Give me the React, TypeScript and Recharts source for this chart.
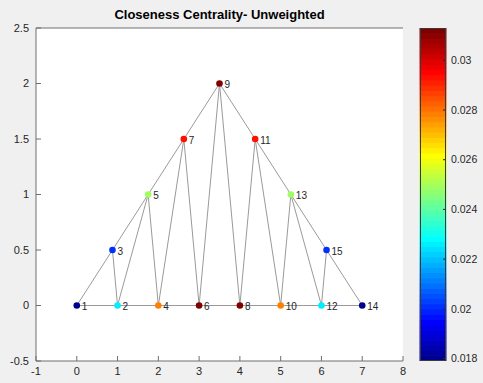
import React from 'react';
import {
  ComposedChart,
  BarChart,
  Bar,
  Scatter,
  XAxis,
  YAxis,
  ReferenceLine,
  CartesianGrid
} from 'recharts';

// node layout + closeness values
const nodeIds = [1, 2, 3, 4, 5, 6, 7, 8, 9, 10, 11, 12, 13, 14, 15];
const nodeX = [0, 1, 0.875, 2, 1.75, 3, 2.625, 4, 3.5, 5, 4.375, 6, 5.25, 7, 6.125];
const nodeY = [0, 0, 0.5, 0, 1, 0, 1.5, 0, 2, 0, 1.5, 0, 1, 0, 0.5];
const closeness = [
  0.0179, 0.0227, 0.02, 0.0278, 0.025, 0.0313, 0.0294, 0.0313,
  0.0313, 0.0278, 0.0294, 0.0227, 0.025, 0.0179, 0.02
];

const edgeFrom = [1, 1, 2, 2, 2, 3, 4, 4, 4, 5, 6, 6, 6, 7, 8, 8, 8, 9, 10, 10, 10, 11, 12, 12, 12, 13, 14];
const edgeTo = [2, 3, 3, 4, 5, 5, 5, 6, 7, 7, 7, 8, 9, 9, 9, 10, 11, 11, 11, 12, 13, 13, 13, 14, 15, 15, 15];

const xTicks = [-1, 0, 1, 2, 3, 4, 5, 6, 7, 8];
const yTicks = [-0.5, 0, 0.5, 1, 1.5, 2, 2.5];
const colorTicks = [0.018, 0.02, 0.022, 0.024, 0.026, 0.028, 0.03];

const TITLE = 'Closeness Centrality- Unweighted';
const FONT = '"Liberation Sans", Arial, Helvetica, sans-serif';

// MATLAB jet colormap
function jetMap(m: number): string[] {
  const n = Math.ceil(m / 4);
  const u: number[] = [];
  for (let i = 1; i <= n; i++) u.push(i / n);
  for (let i = 1; i < n; i++) u.push(1);
  for (let i = n; i >= 1; i--) u.push(i / n);
  const g0 = Math.ceil(n / 2) - (m % 4 === 1 ? 1 : 0);
  const rgb = Array.from({ length: m }, () => [0, 0, 0]);
  u.forEach((v, k) => {
    const gi = g0 + k + 1;
    const ri = gi + n;
    const bi = gi - n;
    if (ri >= 1 && ri <= m) rgb[ri - 1][0] = v;
    if (gi >= 1 && gi <= m) rgb[gi - 1][1] = v;
    if (bi >= 1 && bi <= m) rgb[bi - 1][2] = v;
  });
  return rgb.map(([r, g, b]) => `rgb(${Math.round(r * 255)},${Math.round(g * 255)},${Math.round(b * 255)})`);
}

const JET = jetMap(64);
const cmin = Math.min(...closeness);
const cmax = Math.max(...closeness);

function colorFor(c: number) {
  const idx = Math.min(JET.length - 1, Math.max(0, Math.floor(((c - cmin) / (cmax - cmin)) * JET.length)));
  return JET[idx];
}

const nodes = nodeIds.map((id, i) => ({ id, x: nodeX[i], y: nodeY[i], c: closeness[i] }));

// colour bar: one stacked column, a transparent base then 64 equal bands
const bandStep = (cmax - cmin) / JET.length;
const colorBarRow: Record<string, any> = { name: 'cb', base: cmin };
JET.forEach((_, i) => {
  colorBarRow[`s${i}`] = bandStep;
});
const colorBarData = [colorBarRow];

const tickStyle = { fill: '#262626', fontSize: 11, fontFamily: FONT };
const axisColor = '#6e6e6e';

const NodeShape = (props: any) => {
  const { cx, cy, payload } = props;
  return (
    <g>
      <circle cx={cx} cy={cy} r={3.3} fill={colorFor(payload.c)} />
      <text x={cx + 5} y={cy + 4.5} fontSize={10} fill="#262626" fontFamily={FONT}>
        {payload.id}
      </text>
    </g>
  );
};

function GraphPlot() {
  return (
    <ComposedChart width={483} height={383} margin={{ top: 0, right: 80, bottom: 0, left: 0 }}>
      <CartesianGrid xAxisId="b" yAxisId="l" horizontal={false} vertical={false} fill="#ffffff" />
      <XAxis
        xAxisId="b"
        type="number"
        dataKey="x"
        domain={[-1, 8]}
        ticks={xTicks}
        allowDataOverflow
        orientation="bottom"
        height={22}
        tickSize={-5}
        tickMargin={11}
        stroke={axisColor}
        tick={tickStyle}
        interval={0}
      />
      <XAxis
        xAxisId="t"
        type="number"
        domain={[-1, 8]}
        ticks={xTicks}
        allowDataOverflow
        orientation="top"
        height={28}
        tickSize={-5}
        tick={false}
        stroke={axisColor}
        interval={0}
      />
      <YAxis
        yAxisId="l"
        type="number"
        dataKey="y"
        domain={[-0.5, 2.5]}
        ticks={yTicks}
        allowDataOverflow
        width={36}
        tickSize={-5}
        tickMargin={12}
        stroke={axisColor}
        tick={tickStyle}
        interval={0}
      />
      <YAxis
        yAxisId="r"
        type="number"
        orientation="right"
        domain={[-0.5, 2.5]}
        ticks={yTicks}
        allowDataOverflow
        width={0}
        tickSize={-5}
        tick={false}
        stroke={axisColor}
        interval={0}
      />
      {edgeFrom.map((a, i) => {
        const b = edgeTo[i];
        return (
          <ReferenceLine
            key={`e${i}`}
            xAxisId="b"
            yAxisId="l"
            segment={[
              { x: nodeX[a - 1], y: nodeY[a - 1] },
              { x: nodeX[b - 1], y: nodeY[b - 1] }
            ]}
            stroke="#9a9a9a"
            strokeWidth={1}
          />
        );
      })}
      <Scatter
        xAxisId="b"
        yAxisId="l"
        data={nodes}
        dataKey="y"
        shape={NodeShape}
        isAnimationActive={false}
      />
    </ComposedChart>
  );
}

function ColorBar() {
  return (
    <BarChart
      width={83}
      height={383}
      data={colorBarData}
      margin={{ top: 28, right: 0, bottom: 22, left: 20 }}
      barCategoryGap={0}
      barGap={0}
    >
      <XAxis dataKey="name" hide />
      <YAxis
        type="number"
        orientation="right"
        domain={[cmin, cmax]}
        ticks={colorTicks}
        allowDataOverflow
        width={37}
        tickSize={-3}
        tickMargin={8}
        axisLine={false}
        stroke="#262626"
        tick={{ ...tickStyle, fontSize: 10.5 }}
        interval={0}
        tickFormatter={(v: number) => String(Number(v.toFixed(3)))}
      />
      <Bar dataKey="base" stackId="cb" fill="none" isAnimationActive={false} />
      {JET.map((col, i) => (
        <Bar
          key={`s${i}`}
          dataKey={`s${i}`}
          stackId="cb"
          fill={col}
          stroke={col}
          strokeWidth={1}
          isAnimationActive={false}
        />
      ))}
    </BarChart>
  );
}

export default function App() {
  return (
    <div
      style={{
        position: 'absolute',
        left: 0,
        top: 0,
        width: 483,
        height: 383,
        background: '#f0f0f0',
        fontFamily: FONT,
        overflow: 'hidden'
      }}
    >
      <div style={{ position: 'absolute', left: 0, top: 0 }}>
        <GraphPlot />
      </div>
      <div style={{ position: 'absolute', left: 400, top: 0 }}>
        <ColorBar />
      </div>
      {/* colour bar frame */}
      <div
        style={{
          position: 'absolute',
          left: 420,
          top: 28,
          width: 26,
          height: 333,
          boxSizing: 'border-box',
          border: '1px solid #3a3a3a',
          pointerEvents: 'none'
        }}
      />
      <div
        style={{
          position: 'absolute',
          left: 36,
          width: 367,
          top: 7,
          textAlign: 'center',
          fontWeight: 'bold',
          fontSize: 13,
          color: '#000',
          lineHeight: '16px'
        }}
      >
        {TITLE}
      </div>
    </div>
  );
}
